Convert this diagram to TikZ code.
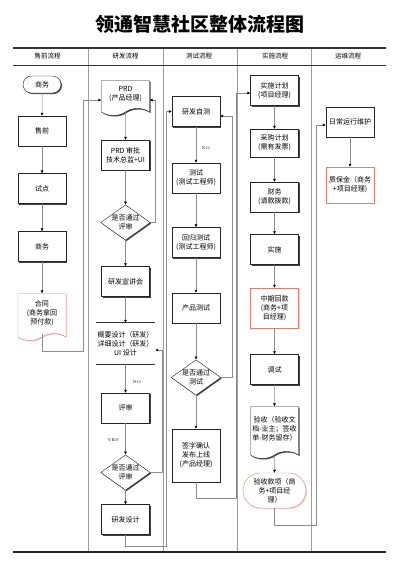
\documentclass[tikz,border=0pt]{standalone}
\usepackage{fontspec}
\newfontfamily\cjk{Noto Sans CJK SC}
\usetikzlibrary{shapes.geometric,shapes.misc,shapes.symbols,arrows.meta,shadows}
\definecolor{redline}{HTML}{E27D72}
\definecolor{laneline}{HTML}{9C9C9C}

\begin{document}
\begin{tikzpicture}
                        [x=1pt,y=-1pt,
                        nodebase/.style={draw=black!85,fill=white,minimum width=48pt,minimum height=30pt,inner sep=1pt,align=center,font=\cjk\fontsize{7}{9}\selectfont},
                        box/.style={nodebase,drop shadow={shadow xshift=1pt,shadow yshift=-1pt,fill=black!75,opacity=1}},
                        redbox/.style={nodebase,draw=redline,drop shadow={shadow xshift=1pt,shadow yshift=-1pt,fill=redline!40,opacity=1}},
                        doc/.style={shape=tape,tape bend top=none,tape bend bottom=in and out,tape bend height=7pt},
                        term/.style={shape=rounded rectangle},
                        dec/.style={box,shape=diamond,aspect=1.4,minimum width=49pt,minimum height=35pt,inner sep=0pt},
                        parallel/.style={minimum width=59pt,minimum height=41pt,align=center,inner sep=0pt,font=\cjk\fontsize{7}{9}\selectfont},
                        conn/.style={draw=black!45,line width=0.5pt,-{Latex[length=3pt,width=3pt,color=black]}},
                        lane/.style={draw=laneline,line width=0.6pt},
                        head/.style={font=\cjk\fontsize{6.5}{8}\selectfont},
                        lbl/.style={font=\fontsize{4}{5}\selectfont,inner sep=0pt}]
                        \useasboundingbox (0,0) rectangle (400,566);
                        \node[font=\cjk\bfseries\fontsize{19}{22}\selectfont] (title) at (200,24) {领通智慧社区整体流程图};
                        % lanes
                        \foreach \x in {88,163,237,311}
                        \draw[lane] (\x,48) -- (\x,552);
                        \draw[line width=1.4pt,black!80] (13,48) -- (386,48);
                        \draw[line width=1pt,black!80] (13,65) -- (386,65);
                        \draw[line width=1.2pt,black!85] (13,552) -- (386,552);
                        \node[head] (h1) at (47.5,56.5) {售前流程};
                        \node[head] (h2) at (125.5,56.5) {研发流程};
                        \node[head] (h3) at (199,56.5) {测试流程};
                        \node[head] (h4) at (275,56.5) {实施流程};
                        \node[head] (h5) at (348,56.5) {运维流程};
                        % sales
                        \node[box,term,minimum width=40pt,minimum height=17pt] (s1) at (42,84.5) {商务};
                        \node[box] (s2) at (42,131) {售前};
                        \node[box] (s3) at (42,188.5) {试点};
                        \node[box] (s4) at (42,246.5) {商务};
                        \node[redbox,doc,minimum height=47pt] (s5) at (42,313.5) {合同\\(商务拿回\\预付款)};
                        % dev
                        \node[box,doc,minimum height=35pt] (d1) at (125.5,94.5) {PRD\\(产品经理)};
                        \node[box] (d2) at (125.5,155) {PRD 审批\\技术总监+UI};
                        \node[dec] (d3) at (125.5,222.5) {是否通过\\评审};
                        \node[box] (d4) at (125.5,281.5) {研发宣讲会};
                        \node[parallel] (d5) at (125.5,343.5) {概要设计（研发）\\详细设计（研发）\\UI 设计};
                        \draw[line width=1.2pt,black!80] (d5.north west) -- (d5.north east);
                        \draw[line width=1.2pt,black!80] (d5.south west) -- (d5.south east);
                        \node[box] (d6) at (125.5,408) {评审};
                        \node[dec] (d7) at (125.5,472.5) {是否通过\\评审};
                        \node[box] (d8) at (125.5,519.5) {研发设计};
                        % test
                        \node[box] (t1) at (196,111.5) {研发自测};
                        \node[box] (t2) at (196,178) {测试\\(测试工程师)};
                        \node[box] (t3) at (196,242.5) {回归测试\\(测试工程师)};
                        \node[box] (t4) at (196,308) {产品测试};
                        \node[dec] (t5) at (196,377.5) {是否通过\\测试};
                        \node[box,minimum height=53pt] (t6) at (196,455.5) {签字确认\\发布上线\\(产品经理)};
                        % delivery
                        \node[box] (i1) at (274.5,90.5) {实施计划\\(项目经理)};
                        \node[box,minimum height=28pt] (i2) at (274.5,143) {采购计划\\(需有发票)};
                        \node[box] (i3) at (274.5,197) {财务\\(请款拨款)};
                        \node[box] (i4) at (274.5,249.5) {实施};
                        \node[redbox,minimum height=40pt] (i5) at (274.5,308) {中期回款\\(商务+项\\目经理)};
                        \node[box] (i6) at (274.5,369.5) {调试};
                        \node[box,doc,minimum height=52pt] (i7) at (274.5,429) {验收（验收文\\档-业主；签收\\单-财务留存）};
                        \node[redbox,term,minimum width=65pt,minimum height=35pt] (i8) at (274.5,490.5) {验收款项（商\\务+项目经\\理）};
                        % ops
                        \node[box] (o1) at (350,122) {日常运行维护};
                        \node[redbox,minimum height=36pt] (o2) at (350,185) {质保金（商务\\+项目经理)};
                        % labels
                        \node[lbl] (n1) at (206,148) {NO};
                        \node[lbl] (n2) at (137,382) {NO};
                        \node[lbl] (n3) at (113,440) {YES};
                        % arrows
                        \foreach \from/\to in {s1/s2,s2/s3,s3/s4,s4/s5,d1/d2,d2/d3,d3/d4,d4/d5,d5/d6,d6/d7,d7/d8,t1/t2,t2/t3,t3/t4,t4/t5,t5/t6,i1/i2,i2/i3,i3/i4,i4/i5,i5/i6,i6/i7,i7/i8,o1/o2}
                        \draw[conn] (\from) -- (\to);
                        \draw[conn] (s5.south) |- (83,351) |- (d1.west |- 0,100);
                        \draw[conn] (d3.east) -| (155,100) -- (d1.east |- 0,100);
                        \draw[conn] (d7.east) -| (162,350) -- (d5.east |- 0,350);
                        \draw[conn] (d8.south) |- (166,546) |- (t1.west);
                        \draw[conn] (t5.east) -| (232,116) -- (t1.east |- 0,116);
                        \draw[conn] (t6.south) |- (236,498) |- (i1.west |- 0,93);
                        \draw[conn] (i8.south) |- (316,525) |- (o1.west |- 0,125);
                    \end{tikzpicture}
\end{document}
